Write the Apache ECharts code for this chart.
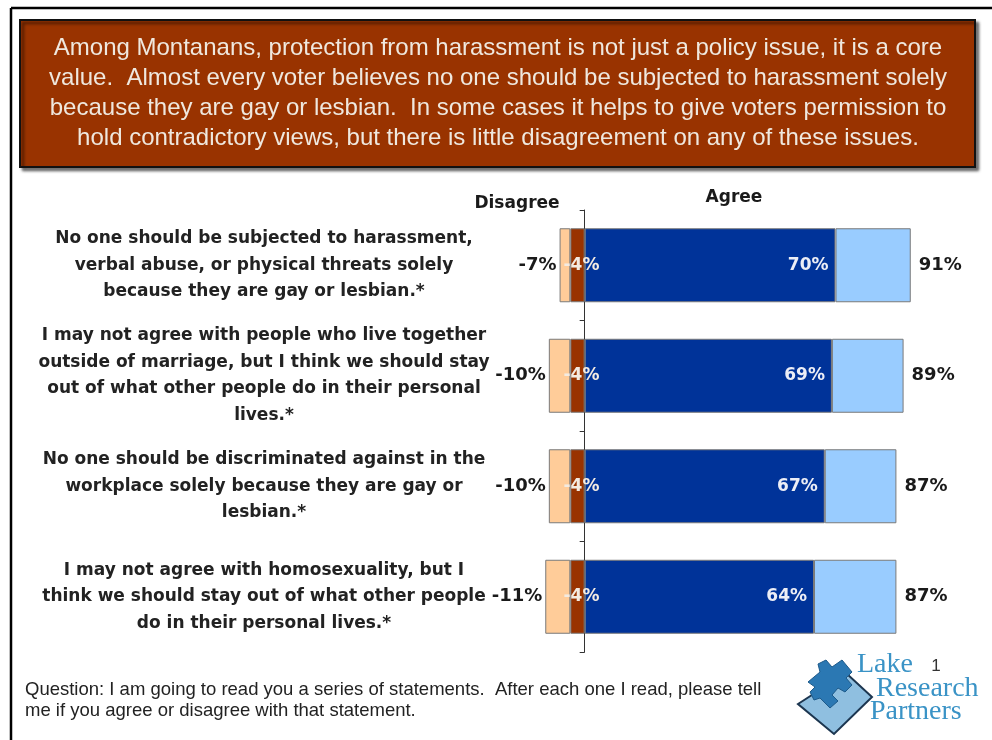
<!DOCTYPE html>
<html>
<head>
<meta charset="utf-8">
<script src="https://cdn.jsdelivr.net/npm/echarts@6/dist/echarts.min.js"></script>
<style>
html,body{margin:0;padding:0;background:#fff;}
#chart{width:992px;height:740px;}
</style>
</head>
<body>
<div id="chart"></div>
<script>
// ---- data ----
const categories = [
  'No one should be subjected to harassment,\nverbal abuse, or physical threats solely\nbecause they are gay or lesbian.*',
  'I may not agree with people who live together\noutside of marriage, but I think we should stay\nout of what other people do in their personal\nlives.*',
  'No one should be discriminated against in the\nworkplace solely because they are gay or\nlesbian.*',
  'I may not agree with homosexuality, but I\nthink we should stay out of what other people\ndo in their personal lives.*'
];
const strongDisagree = [4, 4, 4, 4];
const totalDisagree = [7, 10, 10, 11];
const strongAgree = [70, 69, 67, 64];
const totalAgree = [91, 89, 87, 87];

const titleText = 'Among Montanans, protection from harassment is not just a policy issue, it is a core\nvalue.  Almost every voter believes no one should be subjected to harassment solely\nbecause they are gay or lesbian.  In some cases it helps to give voters permission to\nhold contradictory views, but there is little disagreement on any of these issues.';
const footerText = 'Question: I am going to read you a series of statements.  After each one I read, please tell\nme if you agree or disagree with that statement.';

// derived segments
const somewhatDisagree = totalDisagree.map((t, i) => -(t - strongDisagree[i]));
const strongDisNeg = strongDisagree.map(v => -v);
const somewhatAgree = totalAgree.map((t, i) => t - strongAgree[i]);

const chart = echarts.init(document.getElementById('chart'));
const boldFont = 'DejaVu Sans';
const border = { borderColor: '#7a7a7a', borderWidth: 1 };

const option = {
  animation: false,
  backgroundColor: '#fff',
  grid: { left: 513, width: 430, top: 210, height: 442, outerBoundsMode: 'none', containLabel: false },
  xAxis: {
    type: 'value', min: -20, max: 100,
    axisLine: { show: false }, axisTick: { show: false },
    axisLabel: { show: false }, splitLine: { show: false }
  },
  yAxis: [
    {
      type: 'category', data: categories, inverse: true,
      axisLine: { show: true, onZero: true, lineStyle: { color: '#333', width: 1 } },
      axisTick: { show: true, length: 5, lineStyle: { color: '#333' } },
      axisLabel: { show: false }
    },
    {
      type: 'category', data: categories, inverse: true, position: 'left',
      axisLine: { show: false, onZero: false }, axisTick: { show: false },
      axisLabel: {
        show: true, align: 'center', margin: 249,
        fontFamily: boldFont, fontWeight: 'bold', fontSize: 17, lineHeight: 26.5, color: '#222',
        padding: [4, 0, 0, 0]
      }
    }
  ],
  series: [
    {
      name: 'Strongly disagree', type: 'bar', stack: 'a', data: strongDisNeg, barWidth: 74,
      itemStyle: Object.assign({ color: '#993300' }, border),
      label: {
        show: true, position: 'inside', offset: [4, 0],
        formatter: p => '-' + strongDisagree[p.dataIndex] + '%',
        color: '#f3ebe2', fontFamily: boldFont, fontWeight: 'bold', fontSize: 17
      }
    },
    {
      name: 'Disagree', type: 'bar', stack: 'a', data: somewhatDisagree, barWidth: 74,
      itemStyle: Object.assign({ color: '#ffcc99' }, border),
      label: {
        show: true, position: 'left', distance: 3,
        formatter: p => '-' + totalDisagree[p.dataIndex] + '%',
        color: '#1a1a1a', fontFamily: boldFont, fontWeight: 'bold', fontSize: 18
      }
    },
    {
      name: 'Strongly agree', type: 'bar', stack: 'a', data: strongAgree, barWidth: 74,
      itemStyle: Object.assign({ color: '#003399' }, border),
      label: {
        show: true, position: 'insideRight', distance: 7,
        formatter: p => strongAgree[p.dataIndex] + '%',
        color: '#eceef6', fontFamily: boldFont, fontWeight: 'bold', fontSize: 17
      }
    },
    {
      name: 'Agree', type: 'bar', stack: 'a', data: somewhatAgree, barWidth: 74,
      itemStyle: Object.assign({ color: '#99ccff' }, border),
      label: {
        show: true, position: 'right', distance: 8,
        formatter: p => totalAgree[p.dataIndex] + '%',
        color: '#1a1a1a', fontFamily: boldFont, fontWeight: 'bold', fontSize: 18
      }
    }
  ],
  graphic: [
    // page frame
    { type: 'line', shape: { x1: 11, y1: 8, x2: 992, y2: 8 }, style: { stroke: '#000', lineWidth: 2.5 }, silent: true },
    { type: 'line', shape: { x1: 11, y1: 8, x2: 11, y2: 740 }, style: { stroke: '#000', lineWidth: 2.5 }, silent: true },
    // title box
    {
      type: 'rect', shape: { x: 20, y: 20, width: 955, height: 147 },
      style: { fill: '#993300', stroke: '#111', lineWidth: 2, shadowColor: 'rgba(0,0,0,0.55)', shadowBlur: 3, shadowOffsetX: 3, shadowOffsetY: 3 },
      silent: true
    },
    {
      type: 'text', x: 498, y: 93,
      style: {
        text: titleText, fill: '#efe8de', font: '24px "Liberation Sans", Arial, sans-serif',
        textAlign: 'center', textVerticalAlign: 'middle', lineHeight: 30
      }, silent: true
    },
    // column headers
    { type: 'text', x: 517, y: 204, style: { text: 'Disagree', fill: '#1a1a1a', font: 'bold 17px "DejaVu Sans"', textAlign: 'center', textVerticalAlign: 'middle' }, silent: true },
    { type: 'text', x: 734, y: 198, style: { text: 'Agree', fill: '#1a1a1a', font: 'bold 17px "DejaVu Sans"', textAlign: 'center', textVerticalAlign: 'middle' }, silent: true },
    // footer
    {
      type: 'text', x: 25, y: 700,
      style: { text: footerText, fill: '#222', font: '18.5px "Liberation Sans", Arial', textAlign: 'left', textVerticalAlign: 'middle', lineHeight: 21 },
      silent: true
    },
    // logo slab
    {
      type: 'polygon', shape: { points: [[798, 704], [846, 673], [872, 697], [834, 734]] },
      style: { fill: '#8fbfe0', stroke: '#1c3650', lineWidth: 2 }, silent: true
    },
    // puzzle piece
    {
      type: 'polygon',
      shape: { points: [[808, 682], [820, 672], [818, 664], [826, 660], [832, 667], [842, 660], [852, 672], [846, 678], [852, 685], [845, 692], [838, 688], [832, 695], [838, 701], [830, 708], [820, 698], [814, 700], [810, 692], [815, 687]] },
      style: { fill: '#2b78b3', stroke: '#1d5a8a', lineWidth: 1 }, silent: true
    },
    { type: 'text', x: 857, y: 665, style: { text: 'Lake', fill: '#3a93c6', font: '28px "Liberation Serif", "DejaVu Serif", serif', textAlign: 'left', textVerticalAlign: 'middle' }, silent: true },
    { type: 'text', x: 876, y: 689, style: { text: 'Research', fill: '#3a93c6', font: '28px "Liberation Serif", "DejaVu Serif", serif', textAlign: 'left', textVerticalAlign: 'middle' }, silent: true },
    { type: 'text', x: 870, y: 712, style: { text: 'Partners', fill: '#3a93c6', font: '28px "Liberation Serif", "DejaVu Serif", serif', textAlign: 'left', textVerticalAlign: 'middle' }, silent: true },
    { type: 'text', x: 936, y: 666, style: { text: '1', fill: '#333', font: '17px "Liberation Sans", Arial', textAlign: 'center', textVerticalAlign: 'middle' }, silent: true }
  ]
};
chart.setOption(option);
</script>
</body>
</html>
